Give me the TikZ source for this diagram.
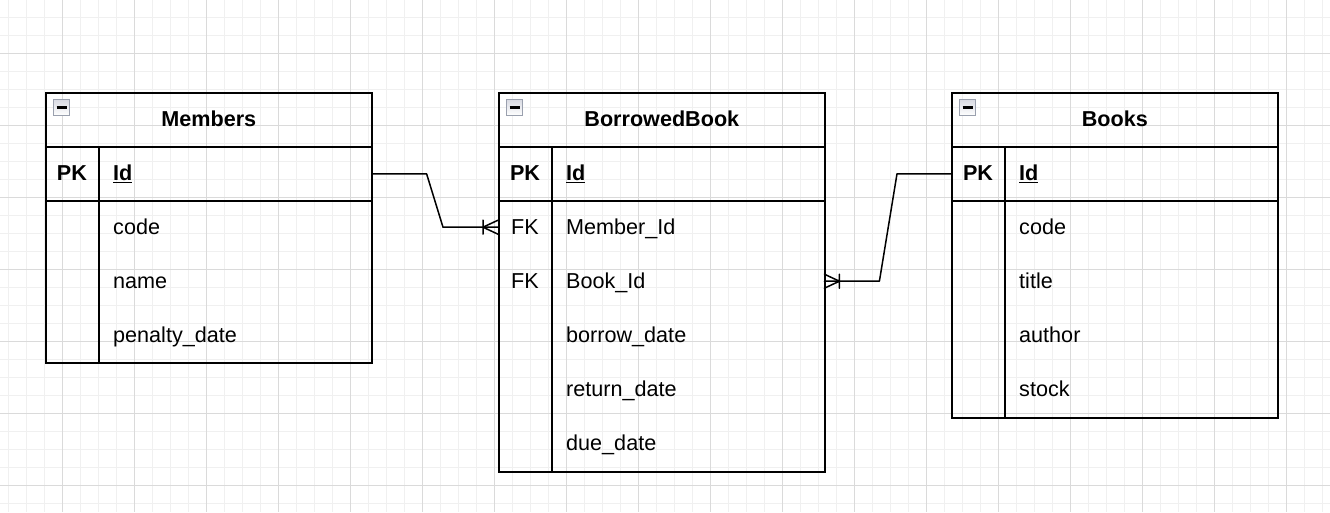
\documentclass[tikz,border=0pt]{standalone}
\usepackage{fontspec}
\setmainfont{Liberation Sans}

\definecolor{gridminor}{HTML}{F0F0F0}
\definecolor{gridmajor}{HTML}{DADADA}
\definecolor{iconfill}{HTML}{D8DAE2}
\definecolor{iconline}{HTML}{9AA0AE}

\tikzset{
  tblbox/.style={draw, line width=1.6pt, minimum width=326pt, anchor=north west, inner sep=0pt},
  rowbox/.style={minimum width=326pt, minimum height=54pt, anchor=north west, inner sep=0pt},
  headbox/.style={rowbox, draw, line width=1.6pt},
  txt/.style={inner sep=0pt, text height=16pt, text depth=2pt, font=\fontsize{21.6}{25}\selectfont},
  title/.style={txt, font=\fontsize{21.6}{25}\selectfont\bfseries},
  keytxt/.style={txt},
  attr/.style={txt, anchor=west},
  minusbox/.style={draw=iconline, top color=iconfill, bottom color=white, minimum size=16pt, inner sep=0pt, line width=1.5pt,
    path picture={\draw[black, line width=2.8pt] ([xshift=-5pt]path picture bounding box.center) -- ([xshift=5pt]path picture bounding box.center);}},
  rel/.style={line width=1.5pt, line cap=round, line join=round}
}

\begin{document}
\begin{tikzpicture}[x=1pt, y=-1pt]
\useasboundingbox (0,0) rectangle (1330,512);
\fill[white] (0,0) rectangle (1330,512);

% background grid
\foreach \x in {8,26,...,1322} \draw[gridminor, line width=1pt] (\x,0) -- (\x,512);
\foreach \y in {17,35,...,503} \draw[gridminor, line width=1pt] (0,\y) -- (1330,\y);
\foreach \x in {62,134,...,1286} \draw[gridmajor, line width=1pt] (\x,0) -- (\x,512);
\foreach \y in {53,125,...,485} \draw[gridmajor, line width=1pt] (0,\y) -- (1330,\y);

% Members
\node[tblbox, minimum height=270pt] (members) at (45,92) {};
\node[headbox] (mem-head) at (45,92) {};
\node[headbox] (mem-pk) at (45,146) {};
\node[rowbox] (mem-code) at (45,200) {};
\node[rowbox] (mem-name) at (45,254) {};
\node[rowbox] (mem-penalty) at (45,308) {};
\draw[line width=1.6pt] ([xshift=54pt]mem-pk.north west) -- ([xshift=54pt]members.south west);
\node[minusbox] (mem-icon) at ([xshift=16.5pt,yshift=-15.5pt]mem-head.north west) {};
\node[title] (mem-title) at (mem-head.center) {Members};
\node[title] (mem-pk-k) at ([xshift=27pt]mem-pk.west) {PK};
\node[attr, font=\fontsize{21.6}{25}\selectfont\bfseries] (mem-pk-a) at ([xshift=68pt]mem-pk.west) {\underline{Id}};
\node[attr] (mem-code-a) at ([xshift=68pt]mem-code.west) {code};
\node[attr] (mem-name-a) at ([xshift=68pt]mem-name.west) {name};
\node[attr] (mem-penalty-a) at ([xshift=68pt]mem-penalty.west) {penalty\_date};

% BorrowedBook
\node[tblbox, minimum height=379pt] (borrowed) at (498,92) {};
\node[headbox] (bb-head) at (498,92) {};
\node[headbox] (bb-pk) at (498,146) {};
\node[rowbox] (bb-member) at (498,200) {};
\node[rowbox] (bb-book) at (498,254) {};
\node[rowbox] (bb-borrow) at (498,308) {};
\node[rowbox] (bb-return) at (498,362) {};
\node[rowbox] (bb-due) at (498,416) {};
\draw[line width=1.6pt] ([xshift=54pt]bb-pk.north west) -- ([xshift=54pt]borrowed.south west);
\node[minusbox] (bb-icon) at ([xshift=16.5pt,yshift=-15.5pt]bb-head.north west) {};
\node[title] (bb-title) at (bb-head.center) {BorrowedBook};
\node[title] (bb-pk-k) at ([xshift=27pt]bb-pk.west) {PK};
\node[attr, font=\fontsize{21.6}{25}\selectfont\bfseries] (bb-pk-a) at ([xshift=68pt]bb-pk.west) {\underline{Id}};
\node[keytxt] (bb-member-k) at ([xshift=27pt]bb-member.west) {FK};
\node[attr] (bb-member-a) at ([xshift=68pt]bb-member.west) {Member\_Id};
\node[keytxt] (bb-book-k) at ([xshift=27pt]bb-book.west) {FK};
\node[attr] (bb-book-a) at ([xshift=68pt]bb-book.west) {Book\_Id};
\node[attr] (bb-borrow-a) at ([xshift=68pt]bb-borrow.west) {borrow\_date};
\node[attr] (bb-return-a) at ([xshift=68pt]bb-return.west) {return\_date};
\node[attr] (bb-due-a) at ([xshift=68pt]bb-due.west) {due\_date};

% Books
\node[tblbox, minimum height=325pt] (books) at (951,92) {};
\node[headbox] (bk-head) at (951,92) {};
\node[headbox] (bk-pk) at (951,146) {};
\node[rowbox] (bk-code) at (951,200) {};
\node[rowbox] (bk-title) at (951,254) {};
\node[rowbox] (bk-author) at (951,308) {};
\node[rowbox] (bk-stock) at (951,362) {};
\draw[line width=1.6pt] ([xshift=54pt]bk-pk.north west) -- ([xshift=54pt]books.south west);
\node[minusbox] (bk-icon) at ([xshift=16.5pt,yshift=-15.5pt]bk-head.north west) {};
\node[title] (bk-title-t) at (bk-head.center) {Books};
\node[title] (bk-pk-k) at ([xshift=27pt]bk-pk.west) {PK};
\node[attr, font=\fontsize{21.6}{25}\selectfont\bfseries] (bk-pk-a) at ([xshift=68pt]bk-pk.west) {\underline{Id}};
\node[attr] (bk-code-a) at ([xshift=68pt]bk-code.west) {code};
\node[attr] (bk-title-a) at ([xshift=68pt]bk-title.west) {title};
\node[attr] (bk-author-a) at ([xshift=68pt]bk-author.west) {author};
\node[attr] (bk-stock-a) at ([xshift=68pt]bk-stock.west) {stock};

% relations
\draw[rel] (mem-pk.east) -- ++(54,0) -- ([xshift=-55pt]bb-member.west) -- (bb-member.west);
\draw[rel] ([xshift=-15pt]bb-member.west) -- ([yshift=7pt]bb-member.west)
           ([xshift=-15pt]bb-member.west) -- ([yshift=-7pt]bb-member.west)
           ([xshift=-15pt,yshift=7pt]bb-member.west) -- ([xshift=-15pt,yshift=-7pt]bb-member.west);

\draw[rel] (bk-pk.west) -- ++(-54,0) -- ([xshift=55pt]bb-book.east) -- (bb-book.east);
\draw[rel] ([xshift=15pt]bb-book.east) -- ([yshift=7pt]bb-book.east)
           ([xshift=15pt]bb-book.east) -- ([yshift=-7pt]bb-book.east)
           ([xshift=15pt,yshift=7pt]bb-book.east) -- ([xshift=15pt,yshift=-7pt]bb-book.east);
\end{tikzpicture}
\end{document}
